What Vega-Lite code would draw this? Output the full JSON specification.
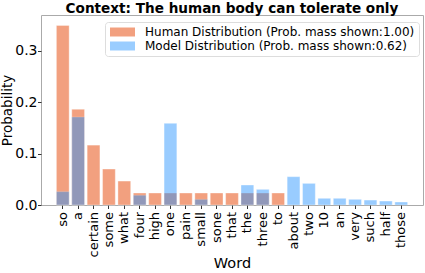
{
  "$schema": "https://vega.github.io/schema/vega-lite/v6.json",
  "width": 382,
  "height": 190,
  "autosize": {"type": "none"},
  "padding": {"left": 41, "top": 15, "right": 2, "bottom": 68},
  "background": "white",
  "title": {
    "text": "Context: The human body can tolerate only",
    "font": "DejaVu Sans",
    "fontSize": 13.6,
    "fontWeight": "bold",
    "color": "black",
    "frame": "group",
    "offset": -1,
    "anchor": "middle"
  },
  "config": {
    "view": {"stroke": "#aaaaaa", "strokeWidth": 1},
    "font": "DejaVu Sans"
  },
  "data": {
    "values": [
      {"word": "so", "series": "Human Distribution (Prob. mass shown:1.00)", "prob": 0.3488},
      {"word": "a", "series": "Human Distribution (Prob. mass shown:1.00)", "prob": 0.186},
      {"word": "certain", "series": "Human Distribution (Prob. mass shown:1.00)", "prob": 0.1163},
      {"word": "some", "series": "Human Distribution (Prob. mass shown:1.00)", "prob": 0.0698},
      {"word": "what", "series": "Human Distribution (Prob. mass shown:1.00)", "prob": 0.0465},
      {"word": "four", "series": "Human Distribution (Prob. mass shown:1.00)", "prob": 0.0233},
      {"word": "high", "series": "Human Distribution (Prob. mass shown:1.00)", "prob": 0.0233},
      {"word": "one", "series": "Human Distribution (Prob. mass shown:1.00)", "prob": 0.0233},
      {"word": "pain", "series": "Human Distribution (Prob. mass shown:1.00)", "prob": 0.0233},
      {"word": "small", "series": "Human Distribution (Prob. mass shown:1.00)", "prob": 0.0233},
      {"word": "sone", "series": "Human Distribution (Prob. mass shown:1.00)", "prob": 0.0233},
      {"word": "that", "series": "Human Distribution (Prob. mass shown:1.00)", "prob": 0.0233},
      {"word": "the", "series": "Human Distribution (Prob. mass shown:1.00)", "prob": 0.0233},
      {"word": "three", "series": "Human Distribution (Prob. mass shown:1.00)", "prob": 0.0233},
      {"word": "to", "series": "Human Distribution (Prob. mass shown:1.00)", "prob": 0.0233},
      {"word": "so", "series": "Model Distribution (Prob. mass shown:0.62)", "prob": 0.026},
      {"word": "a", "series": "Model Distribution (Prob. mass shown:0.62)", "prob": 0.171},
      {"word": "four", "series": "Model Distribution (Prob. mass shown:0.62)", "prob": 0.019},
      {"word": "one", "series": "Model Distribution (Prob. mass shown:0.62)", "prob": 0.1586},
      {"word": "small", "series": "Model Distribution (Prob. mass shown:0.62)", "prob": 0.011},
      {"word": "the", "series": "Model Distribution (Prob. mass shown:0.62)", "prob": 0.0388},
      {"word": "three", "series": "Model Distribution (Prob. mass shown:0.62)", "prob": 0.0304},
      {"word": "about", "series": "Model Distribution (Prob. mass shown:0.62)", "prob": 0.055},
      {"word": "two", "series": "Model Distribution (Prob. mass shown:0.62)", "prob": 0.042},
      {"word": "10", "series": "Model Distribution (Prob. mass shown:0.62)", "prob": 0.013},
      {"word": "an", "series": "Model Distribution (Prob. mass shown:0.62)", "prob": 0.013},
      {"word": "very", "series": "Model Distribution (Prob. mass shown:0.62)", "prob": 0.011},
      {"word": "such", "series": "Model Distribution (Prob. mass shown:0.62)", "prob": 0.0096},
      {"word": "half", "series": "Model Distribution (Prob. mass shown:0.62)", "prob": 0.0077},
      {"word": "those", "series": "Model Distribution (Prob. mass shown:0.62)", "prob": 0.0058}
    ]
  },
  "mark": {"type": "bar", "stroke": "white", "strokeWidth": 0.6, "strokeOpacity": 0.6},
  "encoding": {
    "x": {
      "field": "word",
      "type": "nominal",
      "sort": ["so","a","certain","some","what","four","high","one","pain","small","sone","that","the","three","to","about","two","10","an","very","such","half","those"],
      "scale": {"paddingInner": 0.17, "paddingOuter": 1.15},
      "axis": {
        "title": "Word",
        "titleFont": "DejaVu Sans",
        "titleFontSize": 14.5,
        "titleFontWeight": "normal",
        "titleColor": "black",
        "titlePadding": 0,
        "labelAngle": -90,
        "labelFont": "DejaVu Sans",
        "labelFontSize": 13,
        "labelColor": "black",
        "labelPadding": 3,
        "tickColor": "#333333",
        "tickSize": 3.5,
        "domain": false
      }
    },
    "y": {
      "field": "prob",
      "type": "quantitative",
      "stack": null,
      "scale": {"domain": [0, 0.369], "nice": false},
      "axis": {
        "title": "Probability",
        "titleFont": "DejaVu Sans",
        "titleFontSize": 13.5,
        "titleFontWeight": "normal",
        "titleColor": "black",
        "titleX": -27,
        "titleY": 95,
        "values": [0, 0.1, 0.2, 0.3],
        "format": ".1f",
        "labelFont": "DejaVu Sans",
        "labelFontSize": 14,
        "labelColor": "black",
        "labelPadding": 0.5,
        "tickColor": "#333333",
        "tickSize": 3.5,
        "grid": false,
        "domain": false
      }
    },
    "color": {
      "field": "series",
      "type": "nominal",
      "scale": {"range": ["#f2a07f", "#1e90ff"]},
      "legend": {
        "title": null,
        "orient": "none",
        "legendX": 64,
        "legendY": 7,
        "labelFont": "DejaVu Sans",
        "labelFontSize": 12,
        "labelColor": "black",
        "labelLimit": 0,
        "labelOffset": 24,
        "symbolType": "M-1,-0.9L4,-0.9L4,0.9L-1,0.9Z",
        "symbolSize": 100,
        "symbolStrokeWidth": 0,
        "rowPadding": 2,
        "padding": 4,
        "fillColor": "white",
        "strokeColor": "#dddddd",
        "cornerRadius": 3
      }
    },
    "opacity": {
      "field": "series",
      "type": "nominal",
      "scale": {"range": [1, 0.45]},
      "legend": null
    }
  }
}
